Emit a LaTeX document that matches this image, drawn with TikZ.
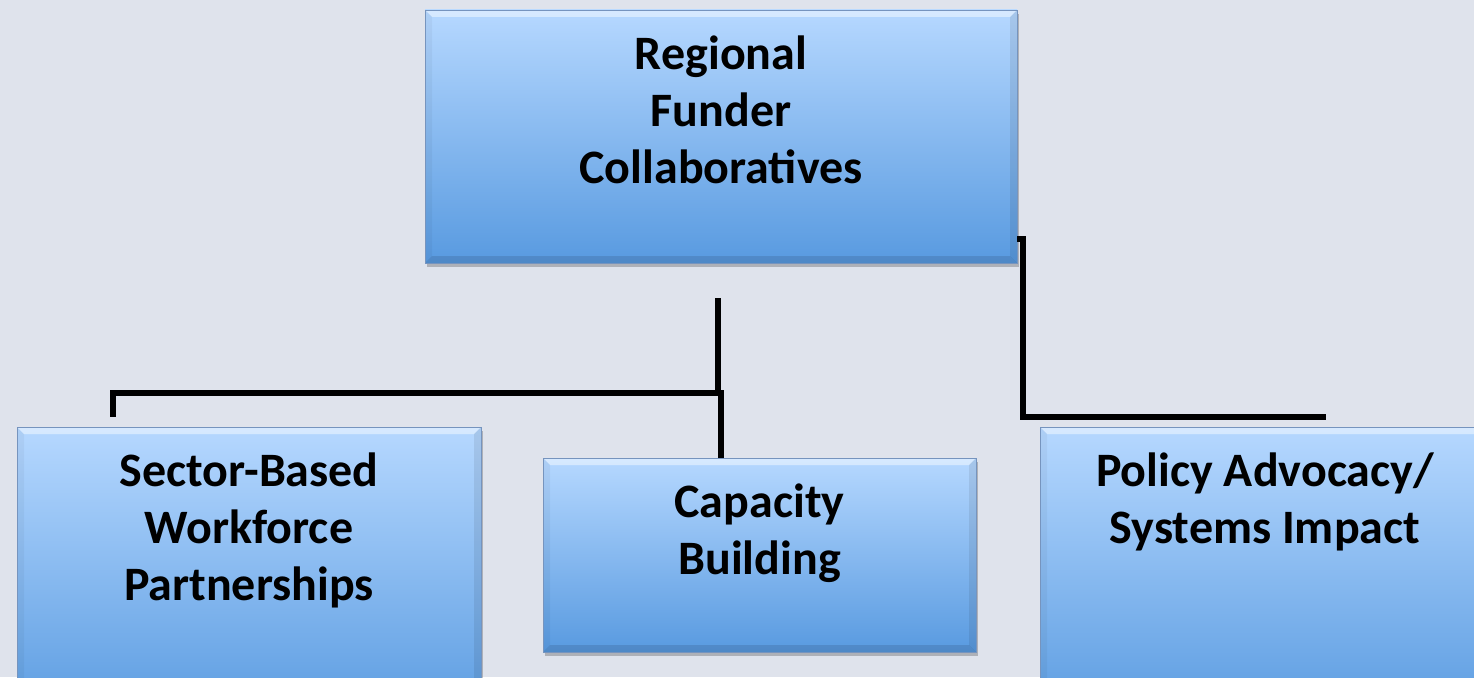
\documentclass[tikz,border=0pt]{standalone}
\usepackage{fontspec}
\setmainfont{Carlito}
\usetikzlibrary{positioning,shadows}

\definecolor{slate}{RGB}{223,227,236}
\definecolor{boxtop}{RGB}{182,216,255}
\definecolor{boxbot}{RGB}{88,154,224}
\definecolor{boxrim}{RGB}{118,148,190}

\begin{document}
\begin{tikzpicture}[x=1pt,y=-1pt]
 % styles for the blocks, their text and the connecting lines
 \tikzset{
  block/.style={rectangle, draw=boxrim, line width=0.8pt, inner sep=0pt,
   top color=boxtop, bottom color=boxbot,
   drop shadow={shadow xshift=2pt,shadow yshift=-4pt,opacity=.22,fill=black},
   path picture={
    \path (path picture bounding box.north west) coordinate (nw)
          (path picture bounding box.south east) coordinate (se);
    % bevelled rim: light top, darker sides and bottom
    \fill[white,opacity=.45] (nw) -- (nw -| se) -- ([shift={(-7pt,-7pt)}]nw -| se) -- ([shift={(7pt,-7pt)}]nw) -- cycle;
    \fill[black,opacity=.11] (se) -- (se -| nw) -- ([shift={(7pt,7pt)}]se -| nw) -- ([shift={(-7pt,7pt)}]se) -- cycle;
    \fill[black,opacity=.04] (nw) -- ([shift={(7pt,-7pt)}]nw) -- ([shift={(7pt,7pt)}]se -| nw) -- (se -| nw) -- cycle;
    \fill[black,opacity=.08] (nw -| se) -- ([shift={(-7pt,-7pt)}]nw -| se) -- ([shift={(-7pt,7pt)}]se) -- (se) -- cycle;
   }},
  blocktext/.style={anchor=north, align=center, inner sep=0pt,
   font=\fontsize{48}{57}\selectfont\bfseries, execute at begin node=\strut},
  link/.style={line width=6pt}
 }

 %background and page size
 \path[use as bounding box, fill=slate] (0,0) rectangle (1474,677);
 \clip (0,0) rectangle (1474,677);

 %blocks
 \node[block, minimum width=592pt, minimum height=253pt] (reg) at (721,136.5) {};
 \node[block, minimum width=464pt, minimum height=300pt] (sector) at (249,577) {};
 \node[block, minimum width=433pt, minimum height=194pt] (cap) at (759.5,555) {};
 \node[block, minimum width=450pt, minimum height=300pt] (policy) at (1265,577) {};

 %block labels
 \node[blocktext, below=26pt of reg.north] (regtxt) {Regional\\Funder\\Collaboratives};
 \node[blocktext, below=26pt of sector.north] (sectortxt) {Sector-Based\\Workforce\\Partnerships};
 \node[blocktext, below=26pt of cap.north] (captxt) {Capacity\\Building};
 \node[blocktext, below=26pt of policy.north] (policytxt) {Policy Advocacy/\\Systems Impact};

 %ends of the connecting lines
 \coordinate (hubtop) at (718,298);
 \coordinate (hub) at (718,393);
 \coordinate (sectordrop) at (113,417);
 \coordinate (capdrop) at (721,390);
 \coordinate (regout) at ([yshift=24pt]reg.south east);
 \coordinate (policyturn) at (1023,417);
 \coordinate (policyend) at (1326,417);

 %connectors
 \draw[link] (hubtop) -- (hub) -| (sectordrop);
 \draw[link] (capdrop) -- (capdrop |- cap.north);
 \draw[link] (regout) -| (policyturn) -- (policyend);
\end{tikzpicture}
\end{document}
